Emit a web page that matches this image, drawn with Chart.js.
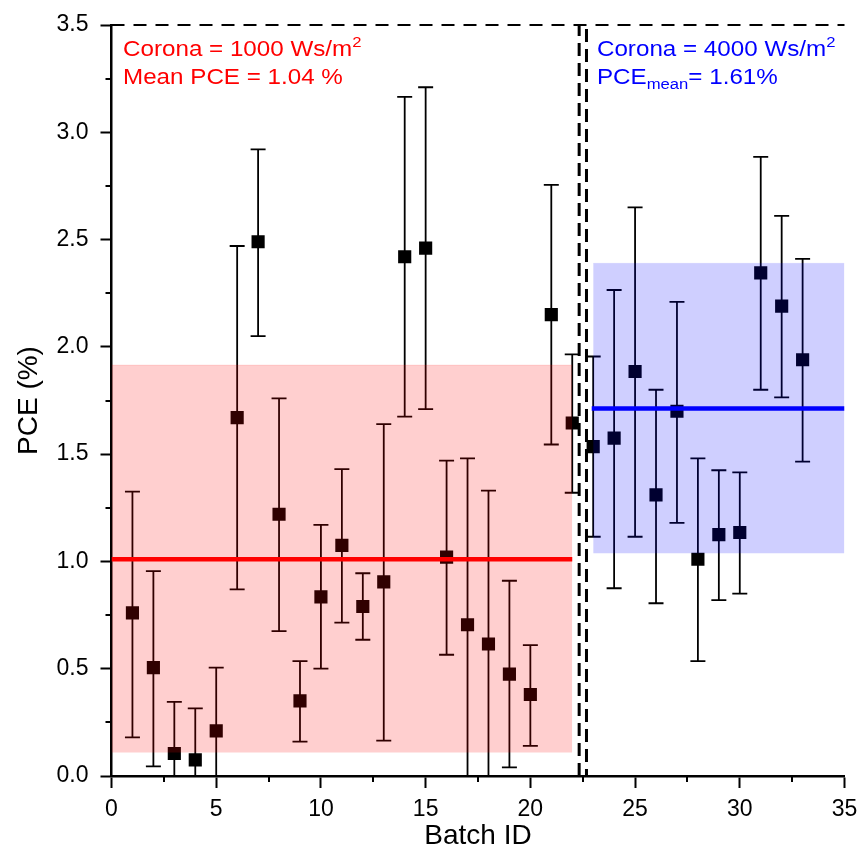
<!DOCTYPE html>
<html>
<head>
<meta charset="utf-8">
<script src="https://cdn.jsdelivr.net/npm/chart.js@4.4.1/dist/chart.umd.min.js"></script>
<style>
  html, body { margin: 0; padding: 0; background: #ffffff; }
  #wrap { width: 859px; height: 857px; }
</style>
</head>
<body>
<div id="wrap"><canvas id="c" width="859" height="857"></canvas></div>
<script>
// ---- data ----
const batchIds = [1,2,3,4,5,6,7,8,9,10,11,12,13,14,15,16,17,18,19,20,21,22,23,24,25,26,27,28,29,30,31,32,33];
const pceValues = [0.76,0.505,0.105,0.075,0.21,1.67,2.49,1.22,0.35,0.835,1.075,0.79,0.905,2.42,2.46,1.02,0.705,0.615,0.475,0.38,2.15,1.645,1.535,1.575,1.885,1.31,1.70,1.01,1.125,1.135,2.345,2.19,1.94];
const pceUpper = [1.325,0.955,0.345,0.315,0.505,2.47,2.92,1.76,0.535,1.17,1.43,0.945,1.64,3.165,3.21,1.47,1.48,1.33,0.91,0.61,2.755,1.965,1.955,2.265,2.65,1.80,2.21,1.48,1.425,1.415,2.885,2.61,2.41];
const pceLower = [0.18,0.045,-0.135,-0.165,-0.085,0.87,2.05,0.675,0.16,0.50,0.715,0.635,0.165,1.675,1.71,0.565,-0.07,-0.10,0.04,0.14,1.545,1.32,1.115,0.875,1.115,0.805,1.18,0.535,0.82,0.85,1.80,1.765,1.465];

// group 1 (Corona = 1000 Ws/m2) band and mean line
const group1Range = [0, 22];
const group1Band = [0.11, 1.915];
const group1Mean = 1.01;
// group 2 (Corona = 4000 Ws/m2) band and mean line
const group2Range = [23, 35];
const group2Band = [1.038, 2.389];
const group2Mean = 1.713;

// separators
const separatorX = [22.33, 22.68];
const topLineY = 3.5;

const xTicks = [0,5,10,15,20,25,30,35];
const yTicks = [0,0.5,1.0,1.5,2.0,2.5,3.0,3.5];
const xMinorTicks = [2.5,7.5,12.5,17.5,22.5,27.5,32.5];
const yMinorTicks = [0.25,0.75,1.25,1.75,2.25,2.75,3.25];

const FONT = '"Liberation Sans", Arial, Helvetica, sans-serif';

// ---- plugins ----
const errorBarPlugin = {
  id: 'errorBars',
  beforeDatasetsDraw(chart) {
    const {ctx, chartArea, scales: {x, y}} = chart;
    ctx.save();
    ctx.beginPath();
    ctx.rect(chartArea.left, chartArea.top - 2, chartArea.width, chartArea.height + 2);
    ctx.clip();
    ctx.strokeStyle = '#000000';
    ctx.lineWidth = 1.8;
    batchIds.forEach((b, i) => {
      const px = x.getPixelForValue(b);
      const lo = y.getPixelForValue(pceLower[i]);
      const hi = y.getPixelForValue(pceUpper[i]);
      ctx.beginPath();
      ctx.moveTo(px, lo); ctx.lineTo(px, hi);
      ctx.moveTo(px - 7.5, hi); ctx.lineTo(px + 7.5, hi);
      ctx.moveTo(px - 7.5, lo); ctx.lineTo(px + 7.5, lo);
      ctx.stroke();
    });
    ctx.restore();
  }
};

const minorTickPlugin = {
  id: 'minorTicks',
  afterDraw(chart) {
    const {ctx, chartArea, scales: {x, y}} = chart;
    ctx.save();
    ctx.strokeStyle = '#000000';
    ctx.lineWidth = 2;
    ctx.beginPath();
    xMinorTicks.forEach(v => {
      const px = Math.round(x.getPixelForValue(v));
      ctx.moveTo(px, chartArea.bottom);
      ctx.lineTo(px, chartArea.bottom + 6);
    });
    yMinorTicks.forEach(v => {
      const py = Math.round(y.getPixelForValue(v));
      ctx.moveTo(chartArea.left, py);
      ctx.lineTo(chartArea.left - 6, py);
    });
    ctx.stroke();
    ctx.restore();
  }
};

const TEXT_STRETCH = 1.075;
function drawRuns(ctx, x, y, runs) {
  ctx.save();
  ctx.translate(x, y);
  ctx.scale(TEXT_STRETCH, 1);
  let cx = 0;
  runs.forEach(r => {
    ctx.font = r.size + 'px ' + FONT;
    ctx.fillText(r.text, cx, (r.dy || 0));
    cx += ctx.measureText(r.text).width;
  });
  ctx.restore();
}

const annotationPlugin = {
  id: 'annotations',
  afterDraw(chart) {
    const {ctx, scales: {x, y}} = chart;
    ctx.save();
    ctx.textBaseline = 'alphabetic';
    ctx.textAlign = 'left';
    const leftX = x.getPixelForValue(0.55);
    const rightX = x.getPixelForValue(23.18);
    const line1 = y.getPixelForValue(3.355);
    const line2 = y.getPixelForValue(3.225);
    ctx.fillStyle = '#FF0000';
    drawRuns(ctx, leftX, line1, [{text: 'Corona = 1000 Ws/m', size: 22.5}, {text: '2', size: 15.5, dy: -9}]);
    drawRuns(ctx, leftX, line2, [{text: 'Mean PCE = 1.04 %', size: 22.5}]);
    ctx.fillStyle = '#0000FF';
    drawRuns(ctx, rightX, line1, [{text: 'Corona = 4000 Ws/m', size: 22.5}, {text: '2', size: 15.5, dy: -9}]);
    drawRuns(ctx, rightX, line2, [{text: 'PCE', size: 22.5}, {text: 'mean', size: 15.5, dy: 5}, {text: '= 1.61%', size: 22.5}]);
    ctx.restore();
  }
};

// ---- datasets ----
const points = batchIds.map((b, i) => ({x: b, y: pceValues[i]}));

const datasets = [
  {
    label: 'PCE',
    data: points,
    pointStyle: 'rect',
    pointRadius: 9.3,
    pointHoverRadius: 9.3,
    backgroundColor: '#000000',
    borderColor: '#000000',
    borderWidth: 0,
    showLine: false,
    order: 10
  },
  {
    label: 'band1',
    type: 'line',
    data: [{x: group1Range[0], y: group1Band[1]}, {x: group1Range[1], y: group1Band[1]}],
    fill: {value: group1Band[0]},
    backgroundColor: 'rgba(255,0,0,0.19)',
    borderColor: 'rgba(255,0,0,0.10)',
    borderWidth: 1,
    pointRadius: 0,
    order: 5
  },
  {
    label: 'band2',
    type: 'line',
    data: [{x: group2Range[0], y: group2Band[1]}, {x: group2Range[1], y: group2Band[1]}],
    fill: {value: group2Band[0]},
    backgroundColor: 'rgba(0,0,255,0.19)',
    borderColor: 'rgba(0,0,255,0.10)',
    borderWidth: 1,
    pointRadius: 0,
    order: 5
  },
  {
    label: 'mean1',
    type: 'line',
    data: [{x: group1Range[0], y: group1Mean}, {x: group1Range[1], y: group1Mean}],
    borderColor: '#FF0000',
    borderWidth: 4.5,
    pointRadius: 0,
    fill: false,
    order: 2
  },
  {
    label: 'mean2',
    type: 'line',
    data: [{x: group2Range[0] - 0.07, y: group2Mean}, {x: group2Range[1], y: group2Mean}],
    borderColor: '#0000FF',
    borderWidth: 4.5,
    pointRadius: 0,
    fill: false,
    order: 2
  },
  {
    label: 'top',
    type: 'line',
    data: [{x: 0, y: topLineY}, {x: 35, y: topLineY}],
    borderColor: '#000000',
    borderWidth: 2,
    borderDash: [13, 9],
    pointRadius: 0,
    fill: false,
    clip: false,
    order: 1
  },
  ...separatorX.map((sx, k) => ({
    label: 'sep',
    type: 'line',
    data: [{x: sx, y: 0}, {x: sx, y: topLineY}],
    borderColor: '#000000',
    borderWidth: 3,
    borderDash: [13, 7],
    borderDashOffset: k * 6,
    pointRadius: 0,
    fill: false,
    clip: false,
    order: 1
  }))
];

new Chart(document.getElementById('c'), {
  type: 'scatter',
  data: { datasets },
  plugins: [errorBarPlugin, minorTickPlugin, annotationPlugin],
  options: {
    responsive: false,
    animation: false,
    events: [],
    layout: { padding: { top: 25, right: 14.5, left: 0, bottom: 0 } },
    plugins: { legend: { display: false }, tooltip: { enabled: false } },
    scales: {
      x: {
        type: 'linear',
        position: 'bottom',
        min: 0, max: 35,
        afterFit: s => { s.height = 81; s.paddingLeft = 0; s.paddingRight = 0; },
        afterBuildTicks: s => { s.ticks = xTicks.map(v => ({value: v})); },
        ticks: { stepSize: 5, color: '#000000', font: { family: FONT, size: 23 }, padding: 8, maxRotation: 0, callback: v => String(v) },
        grid: { drawOnChartArea: false, drawTicks: true, tickLength: 12, tickWidth: 2, tickColor: '#000000' },
        border: { display: true, color: '#000000', width: 2.5 },
        title: { display: true, text: 'Batch ID', color: '#000000', font: { family: FONT, size: 28 }, padding: { top: 0, bottom: 4 } }
      },
      y: {
        type: 'linear',
        position: 'left',
        min: 0, max: 3.5,
        afterFit: s => { s.width = 111.5; s.paddingTop = 0; s.paddingBottom = 0; },
        afterBuildTicks: s => { s.ticks = yTicks.map(v => ({value: v})); },
        ticks: { stepSize: 0.5, color: '#000000', font: { family: FONT, size: 23 }, padding: 12, callback: v => Number(v).toFixed(1) },
        grid: { drawOnChartArea: false, drawTicks: true, tickLength: 11, tickWidth: 2, tickColor: '#000000' },
        border: { display: true, color: '#000000', width: 2.5 },
        title: { display: true, text: 'PCE (%)', color: '#000000', font: { family: FONT, size: 28 }, padding: { top: 12, bottom: 0 } }
      }
    }
  }
});
</script>
</body>
</html>
